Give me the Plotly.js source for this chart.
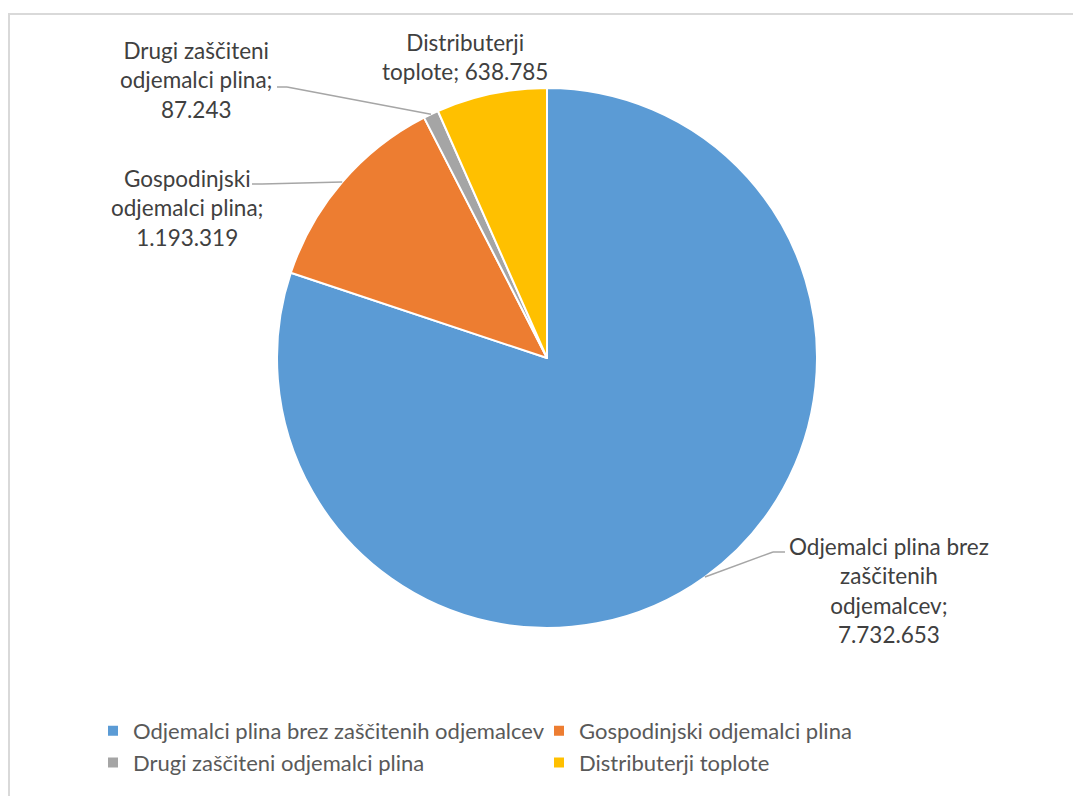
<!DOCTYPE html>
<html><head><meta charset="utf-8">
<script src="https://cdn.plot.ly/plotly-3.0.1.min.js"></script>
<style>html,body{margin:0;padding:0;background:#fff}#chart{width:1073px;height:796px}</style>
</head><body><div id="chart"></div>
<script>
// ---- data ----
const categories = ["Odjemalci plina brez zaščitenih odjemalcev", "Gospodinjski odjemalci plina", "Drugi zaščiteni odjemalci plina", "Distributerji toplote"];
const values = [7732653, 1193319, 87243, 638785];
const colors = ["#5B9BD5", "#ED7D31", "#A5A5A5", "#FFC000"];
const labelLines = [["Odjemalci plina brez", "zaščitenih", "odjemalcev;"], ["Gospodinjski", "odjemalci plina;"], ["Drugi zaščiteni", "odjemalci plina;"], ["Distributerji", "toplote;"]];
const valueOnSameLine = [false, false, false, true];

// ---- layout geometry (pixels) ----
const W = 1073, H = 796, ML = 0, MR = 0, GW = W - ML - MR;
const CX = 547, CY = 358, R = 270;
const labelPos = [[889, 590], [187, 208], [196, 80], [465, 57]];
const leaderBends = [[[773, 552], [785, 552]], [[262, 184], [252, 184]], [[287, 87], [277, 87]], null];
const px = p => (p - ML) / GW;
const py = p => 1 - p / H;

function fmt(v) { return String(v).replace(/\B(?=(\d{3})+(?!\d))/g, "."); }

const total = values.reduce((a, b) => a + b, 0);
let cum = 0;
const mids = values.map(v => { const m = (cum + v / 2) / total; cum += v; return m * 2 * Math.PI; });

const labelFont = {family: "Lato, sans-serif", size: 22.5, color: "#404040"};
const annotations = categories.map((c, i) => {
  const lines = labelLines[i].slice();
  if (valueOnSameLine[i]) lines[lines.length - 1] += " " + fmt(values[i]);
  else lines.push(fmt(values[i]));
  return {xref: "paper", yref: "paper", x: px(labelPos[i][0]), y: py(labelPos[i][1]),
    xanchor: "center", yanchor: "middle", align: "center", showarrow: false,
    text: lines.join("<br>"), font: labelFont};
});

const shapes = [{type: "rect", xref: "paper", yref: "paper", x0: px(9), x1: px(1090), y0: py(14), y1: py(810),
  line: {color: "#D9D9D9", width: 2}, fillcolor: "rgba(0,0,0,0)", layer: "below"}];
mids.forEach((a, i) => {
  if (!leaderBends[i]) return;
  const pts = [[CX + R * Math.sin(a), CY - R * Math.cos(a)]].concat(leaderBends[i]);
  for (let k = 0; k < pts.length - 1; k++) {
    shapes.push({type: "line", xref: "paper", yref: "paper", x0: px(pts[k][0]), y0: py(pts[k][1]),
      x1: px(pts[k + 1][0]), y1: py(pts[k + 1][1]), line: {color: "#A6A6A6", width: 1.5}});
  }
});

const trace = {
  type: "pie", labels: categories, values: values, sort: false, direction: "clockwise", rotation: 0,
  marker: {colors: colors, line: {color: "#FFFFFF", width: 2}},
  textinfo: "none", hoverinfo: "label+value+percent",
  domain: {x: [px(CX - R), px(CX + R)], y: [py(CY + R), py(CY - R)]}
};

const layout = {
  width: W, height: H, margin: {l: ML, r: MR, t: 0, b: 0}, paper_bgcolor: "#FFFFFF",
  showlegend: true,
  legend: {orientation: "h", x: px(93), xanchor: "left", y: py(710), yanchor: "top",
    entrywidth: 401, entrywidthmode: "pixels", traceorder: "normal",
    font: {family: "Lato, sans-serif", size: 22, color: "#595959"}},
  annotations: annotations, shapes: shapes
};

Plotly.newPlot("chart", [trace], layout, {displayModeBar: false, staticPlot: true});
</script></body></html>
